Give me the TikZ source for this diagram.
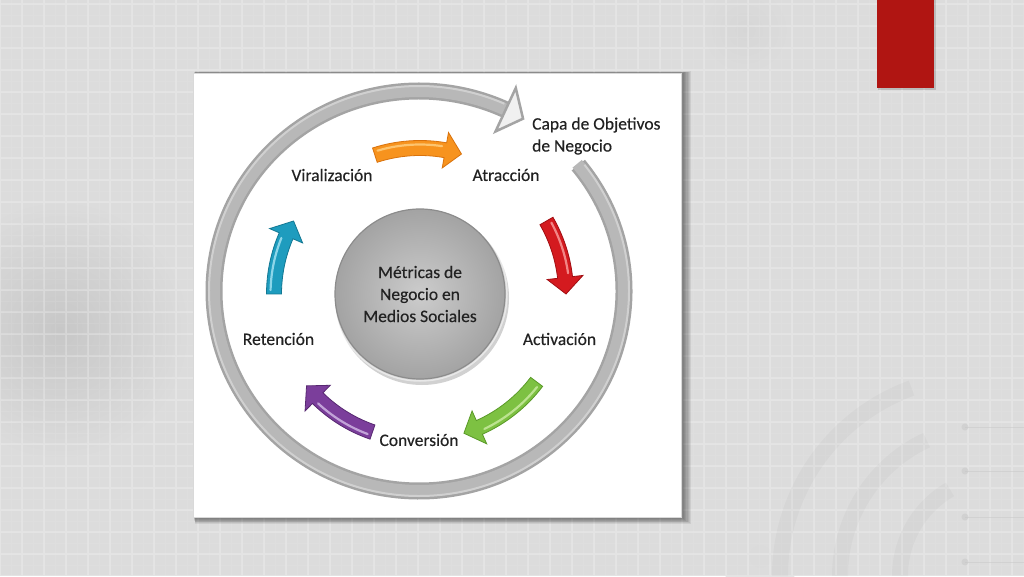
\documentclass[tikz,border=0pt]{standalone}
\usepackage{fontspec}
\setmainfont{Carlito}
\newfontfamily\lblfont[FakeBold=0.3]{Carlito}
\usetikzlibrary{calc}
\definecolor{bgc}{HTML}{DCDCDC}
\definecolor{ringdark}{HTML}{A4A4A4}
\definecolor{ringmid}{HTML}{B8B8B8}
\definecolor{txt}{HTML}{222222}
\definecolor{redbox}{HTML}{B01512}
\definecolor{orM}{HTML}{F7931E}\definecolor{orL}{HTML}{FDC46E}\definecolor{orD}{HTML}{D9720C}
\definecolor{rdM}{HTML}{D41A1F}\definecolor{rdL}{HTML}{F28585}\definecolor{rdD}{HTML}{A10E12}
\definecolor{gnM}{HTML}{7DC142}\definecolor{gnL}{HTML}{BCE390}\definecolor{gnD}{HTML}{5A9A28}
\definecolor{ppM}{HTML}{7B3E9B}\definecolor{ppL}{HTML}{C2A3D8}\definecolor{ppD}{HTML}{572871}
\definecolor{cyM}{HTML}{1E9CBE}\definecolor{cyL}{HTML}{8DD6E9}\definecolor{cyD}{HTML}{137893}
\newcommand{\cycarrow}[5]{%
  \pgfmathsetmacro{\hbk}{#2+6.5}%
  \pgfmathsetmacro{\tla}{#1-1.5}%
  \pgfmathsetmacro{\hbb}{#2+8}%
  \fill[#3, draw=#5, line width=0.8pt, line join=miter]
    (#1:153.5pt) arc[start angle=#1, end angle=\hbk, radius=153.5pt]
    -- (\hbk:164pt) -- (#2:146pt) -- (\hbk:128pt) -- (\hbk:138.5pt)
    arc[start angle=\hbk, end angle=#1, radius=138.5pt] -- cycle;
  \draw[#4, line width=2.2pt, line cap=round]
    (\tla:149.5pt) arc[start angle=\tla, end angle=\hbb, radius=149.5pt];
}
\tikzset{
  lbl/.style={font=\lblfont\fontsize{17.5}{22}\selectfont, text=txt, inner sep=0pt},
}
\begin{document}
\begin{tikzpicture}[x=1pt,y=1pt]
\useasboundingbox (0,0) rectangle (1024,576);
% background
\fill[bgc] (0,0) rectangle (1024,576);
\shade[inner color=black!22, outer color=bgc] (60,246) circle (130);
\shade[inner color=black!16, outer color=bgc] (745,546) circle (45);
\shade[inner color=black!14, outer color=bgc] (760,20) circle (40);
\draw[white, opacity=0.08, line width=0.6pt] (0,0) grid[step=11] (1024,576);
\draw[white, opacity=0.2, line width=1.4pt] (0,0) grid[step=22] (1024,576);
% faint arcs and lines bottom right
\begin{scope}[black, opacity=0.025, line width=16pt]
  \draw (780,0) arc[start angle=180, end angle=110, radius=200];
  \draw (840,0) arc[start angle=180, end angle=115, radius=150];
  \draw (900,0) arc[start angle=180, end angle=120, radius=100];
\end{scope}
\begin{scope}[black!22, opacity=0.5, line width=1pt]
  \foreach \yy in {149,105,59,14}{
    \draw (965,\yy) -- (1024,\yy);
    \fill (965,\yy) circle (3.5);
  }
\end{scope}
% red box
\fill[black, opacity=0.15] (878,486) rectangle (936,576);
\fill[redbox] (877,488) rectangle (934,576);
% panel shadow
\foreach \i in {1,...,8}{
  \fill[black, opacity=0.07] (193+\i*0.3,59-\i*0.9) rectangle (681+\i*1.3,503+\i*0.2);
}
\fill[white, draw=black!15, line width=0.8pt] (193,59) rectangle (681,503);
% big ring arrow
\begin{scope}[shift={(419,285)}]
  \draw[ringdark, line width=17pt] (39:205pt and 200pt)
     arc[start angle=39, end angle=-295, x radius=205pt, y radius=200pt];
  \draw[ringmid, line width=12pt] (39.5:205pt and 200pt)
     arc[start angle=39.5, end angle=-295, x radius=205pt, y radius=200pt];
  \draw[white, opacity=0.35, line width=2pt] (38:210pt and 205pt)
     arc[start angle=38, end angle=-294, x radius=210pt, y radius=205pt];
  \filldraw[fill=black!6, draw=ringdark, line width=2.5pt, line join=miter]
     (65:229pt and 224pt) -- (59.5:205pt and 200pt) -- (65:181pt and 176pt) -- cycle;
  \coordinate (ringtip) at (59.5:205pt and 200pt);
\end{scope}
% centre circle
\fill[black, opacity=0.18] (422,278) circle (87);
\shade[inner color=black!20, outer color=black!36, draw=black!45, line width=1.2pt] (420,282) circle (85);
\draw[white, opacity=0.5, line width=1.5pt] (420,282) circle (87);
\node[lbl, align=center] (centre) at (420,282) {Métricas de\\Negocio en\\Medios Sociales};
% coloured arrows
\begin{scope}[shift={(420,282)}]
  \cycarrow{108}{73.5}{orM}{orL}{orD}
  \cycarrow{30}{0}{rdM}{rdL}{rdD}
  \cycarrow{-37}{-72.5}{gnM}{gnL}{gnD}
  \cycarrow{-109}{-141}{ppM}{ppL}{ppD}
  \cycarrow{180}{150}{cyM}{cyL}{cyD}
\end{scope}
% labels
\node[lbl] (vir) at (332,401) {Viralización};
\node[lbl] (atr) at (506,401) {Atracción};
\node[lbl, anchor=west, align=left] (capa) at (532,440) {Capa de Objetivos\\de Negocio};
\node[lbl] (act) at (559.5,237) {Activación};
\node[lbl] (ret) at (278.5,237) {Retención};
\node[lbl] (conv) at (419,136) {Conversión};
\end{tikzpicture}
\end{document}
